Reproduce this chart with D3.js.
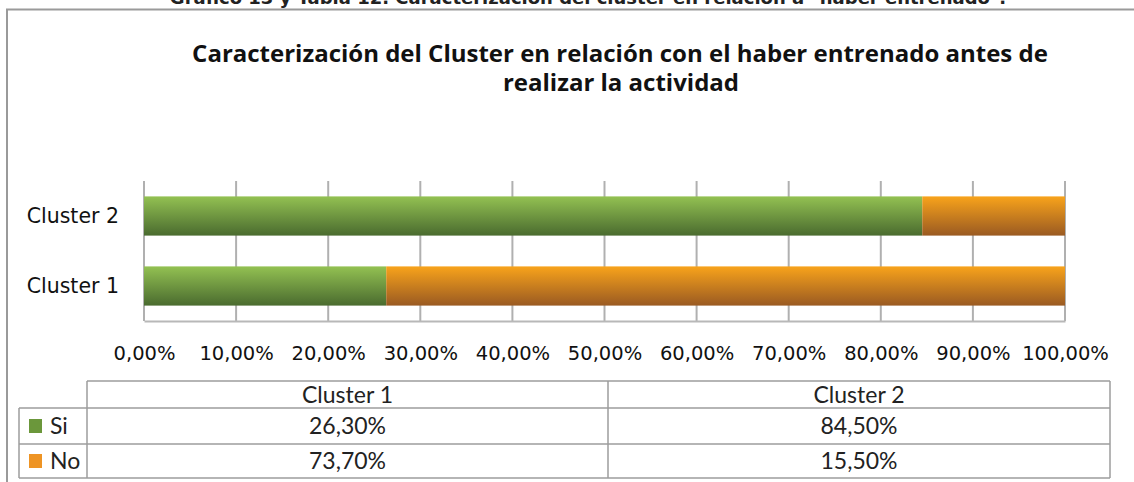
<!DOCTYPE html>
<html>
<head>
<meta charset="utf-8">
<script src="https://cdn.jsdelivr.net/npm/d3@7"></script>
<style>
  body { margin: 0; background: #fff; }
  svg { display: block; }
</style>
</head>
<body>
<div id="figure"></div>
<script>
// chart data
var clusters = ["Cluster 1", "Cluster 2"];
var seriesNames = ["Si", "No"];
var siValues = [26.3, 84.5];
var noValues = [73.7, 15.5];
var tickValues = [0, 10, 20, 30, 40, 50, 60, 70, 80, 90, 100];
var colors = {Si: ["#93c152", "#4a6b2f"], No: ["#f8a31b", "#9a5a22"]};
var legendColors = {Si: "#6b973b", No: "#ee9424"};

var width = 1134, height = 482;

var es = d3.formatLocale({decimal: ",", thousands: ".", grouping: [3], currency: ["", "€"]});
var pct = function(v) { return es.format(".2f")(v) + "%"; };

var svg = d3.select("#figure").append("svg")
    .attr("width", width)
    .attr("height", height);

var defs = svg.append("defs");
seriesNames.forEach(function(s) {
  var g = defs.append("linearGradient")
      .attr("id", "grad" + s)
      .attr("x1", 0).attr("y1", 0).attr("x2", 0).attr("y2", 1);
  g.append("stop").attr("offset", "0%").attr("stop-color", colors[s][0]);
  g.append("stop").attr("offset", "100%").attr("stop-color", colors[s][1]);
});

// caption at the top, cut off by the page edge as in the source
svg.append("text")
    .attr("x", 588)
    .attr("y", 4)
    .attr("text-anchor", "middle")
    .style("font-family", "DejaVu Sans")
    .style("font-weight", "bold")
    .style("font-size", "18px")
    .style("fill", "#222")
    .text("Gráfico 13 y Tabla 12. Caracterización del cluster en relación a \"haber entrenado\".");

// outer frame (only top and left are visible)
svg.append("path")
    .attr("d", "M7,482 V9.5 H1134")
    .attr("fill", "none")
    .attr("stroke", "#9a9a9a")
    .attr("stroke-width", 2);

// title
var title = svg.append("text")
    .attr("text-anchor", "middle")
    .style("font-family", "Open Sans")
    .style("font-weight", "bold")
    .style("font-size", "24px")
    .style("fill", "#111");
title.append("tspan").attr("x", 620).attr("y", 62)
    .text("Caracterización del Cluster en relación con el haber entrenado antes de");
title.append("tspan").attr("x", 621).attr("y", 91)
    .text("realizar la actividad");

var margin = {left: 144, right: 1065, top: 181, bottom: 321};

var x = d3.scaleLinear().domain([0, 100]).range([margin.left, margin.right]);
var y = d3.scaleBand().domain(clusters.slice().reverse())
    .range([margin.top, margin.bottom])
    .paddingInner(0.44).paddingOuter(0.22);

// gridlines
svg.append("g")
  .selectAll("line")
  .data(tickValues)
  .join("line")
    .attr("x1", function(d) { return x(d); })
    .attr("x2", function(d) { return x(d); })
    .attr("y1", margin.top)
    .attr("y2", margin.bottom)
    .attr("stroke", "#b0b0b0")
    .attr("stroke-width", 2);

// bottom axis
var xAxis = svg.append("g")
    .attr("transform", "translate(0," + margin.bottom + ")")
    .call(d3.axisBottom(x).tickValues(tickValues).tickSize(0).tickPadding(25)
      .tickFormat(function(d) { return pct(d); }));
xAxis.select(".domain").attr("stroke", "#b8b8b8").attr("stroke-width", 2);
xAxis.selectAll("text")
    .style("font-family", "DejaVu Sans")
    .style("font-size", "19.5px")
    .style("fill", "#111");

// left labels
var yAxis = svg.append("g")
    .attr("transform", "translate(" + margin.left + ",0)")
    .call(d3.axisLeft(y).tickSize(0).tickPadding(25));
yAxis.select(".domain").remove();
yAxis.selectAll("text")
    .style("font-family", "DejaVu Sans")
    .style("font-size", "20.5px")
    .style("fill", "#111");

// stacked bars
var rows = clusters.map(function(c, i) { return {cluster: c, Si: siValues[i], No: noValues[i]}; });
var stacked = d3.stack().keys(seriesNames)(rows);

svg.append("g")
  .selectAll("g")
  .data(stacked)
  .join("g")
    .attr("fill", function(d) { return "url(#grad" + d.key + ")"; })
  .selectAll("rect")
  .data(function(d) { return d; })
  .join("rect")
    .attr("x", function(d) { return x(d[0]); })
    .attr("width", function(d) { return x(d[1]) - x(d[0]); })
    .attr("y", function(d) { return y(d.data.cluster); })
    .attr("height", y.bandwidth());

// data table
var tbl = {left: 19, labelRight: 87, right: 1110, top: 381, rowH: [27, 36, 34]};
var colEdges = [tbl.labelRight, 608, tbl.right];
var colLeft = d3.scaleOrdinal().domain(clusters).range(colEdges.slice(0, 2));
var colRight = d3.scaleOrdinal().domain(clusters).range(colEdges.slice(1));
var colMid = function(c) { return (colLeft(c) + colRight(c)) / 2; };
var rowTops = [tbl.top, tbl.top + tbl.rowH[0], tbl.top + tbl.rowH[0] + tbl.rowH[1]];
var tblBottom = rowTops[2] + tbl.rowH[2];

var tg = svg.append("g")
    .attr("fill", "none")
    .attr("stroke", "#9c9c9c")
    .attr("stroke-width", 1.5);
// horizontal lines
tg.append("line").attr("x1", tbl.labelRight).attr("x2", tbl.right).attr("y1", rowTops[0]).attr("y2", rowTops[0]);
[rowTops[1], rowTops[2], tblBottom].forEach(function(yy) {
  tg.append("line").attr("x1", tbl.left).attr("x2", tbl.right).attr("y1", yy).attr("y2", yy);
});
// vertical lines
tg.append("line").attr("x1", tbl.left).attr("x2", tbl.left).attr("y1", rowTops[1]).attr("y2", tblBottom);
colEdges.forEach(function(xx) {
  tg.append("line").attr("x1", xx).attr("x2", xx).attr("y1", rowTops[0]).attr("y2", tblBottom);
});

var tableFont = function(sel) {
  sel.style("font-family", "Lato").style("font-size", "23px").style("fill", "#222");
};

// header
svg.append("g").selectAll("text")
  .data(clusters)
  .join("text")
    .attr("x", function(d) { return colMid(d); })
    .attr("y", rowTops[0] + tbl.rowH[0] / 2)
    .attr("dy", "0.35em")
    .attr("text-anchor", "middle")
    .call(tableFont)
    .text(function(d) { return d; });

var tableRows = [{name: "Si", values: siValues}, {name: "No", values: noValues}];
tableRows.forEach(function(r, i) {
  var cy = rowTops[i + 1] + tbl.rowH[i + 1] / 2;
  svg.append("rect")
      .attr("x", 29).attr("y", cy - 7)
      .attr("width", 13).attr("height", 14)
      .attr("fill", legendColors[r.name]);
  svg.append("text")
      .attr("x", 50).attr("y", cy).attr("dy", "0.35em")
      .call(tableFont)
      .text(r.name);
  svg.append("g").selectAll("text")
    .data(r.values)
    .join("text")
      .attr("x", function(d, j) { return colMid(clusters[j]); })
      .attr("y", cy)
      .attr("dy", "0.35em")
      .attr("text-anchor", "middle")
      .call(tableFont)
      .text(function(d) { return pct(d); });
});
</script>
</body>
</html>
